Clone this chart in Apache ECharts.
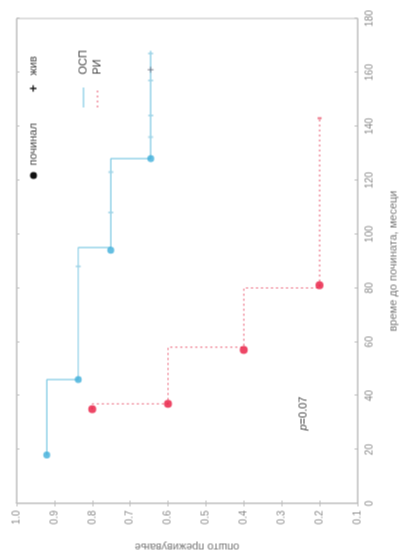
<!DOCTYPE html>
<html>
<head>
<meta charset="utf-8">
<script src="https://cdn.jsdelivr.net/npm/echarts@6/dist/echarts.min.js"></script>
<style>
  html, body { margin: 0; padding: 0; background: #fff; }
  #frame { position: relative; width: 403px; height: 560px; overflow: hidden; }
  /* chart is laid out landscape and turned a quarter turn counter-clockwise */
  #chart { position: absolute; width: 560px; height: 403px; left: -78.5px; top: 78.5px;
           transform: rotate(-90deg); transform-origin: 50% 50%; }
</style>
</head>
<body>
<div id="frame"><div id="chart"></div></div>
<script>
// Kaplan–Meier curves: time to death (months) vs overall survival
const ospSteps = [[18, 0.92], [46, 0.837], [95, 0.751], [128, 0.646], [168, 0.646]];
const ospDeaths = [[18, 0.92], [46, 0.837], [94, 0.751], [128, 0.646]];
const ospCensored = [[88, 0.837], [108, 0.751], [123, 0.751], [136, 0.646], [144, 0.646], [157, 0.646], [167, 0.646]];
const ospAlive = [[161, 0.646]];

const riSteps = [[35, 0.8], [37, 0.6], [58, 0.4], [80, 0.2], [143, 0.2]];
const riDeaths = [[35, 0.8], [37, 0.6], [57, 0.4], [81, 0.2]];
const riCensored = [[143, 0.2]];

const timeTicks = { min: 0, max: 180, interval: 20 };
const survTicks = { min: 0.1, max: 1.0, interval: 0.1 };

const FONT = 'Liberation Sans';
const BLUE_LINE = '#7cc8e2';
const BLUE_DOT = '#3daed9';
const RED_LINE = '#e8546c';
const RED_DOT = '#e8183f';
const AXIS_GRAY = '#bdbdbd';
const LABEL_GRAY = '#888';

const plusPath = 'path://M0,-5 L0,5 M-5,0 L5,0';
const barPath = 'path://M-0.6,-5 L0.6,-5 L0.6,5 L-0.6,5 Z';

const chart = echarts.init(document.getElementById('chart'), null, { renderer: 'canvas' });

function timeAxis(extra) {
  return Object.assign({
    type: 'value', min: timeTicks.min, max: timeTicks.max, interval: timeTicks.interval,
    axisLine: { show: true, lineStyle: { color: AXIS_GRAY, width: 1 } },
    axisTick: { show: true, inside: true, length: 3, lineStyle: { color: AXIS_GRAY } },
    splitLine: { show: false }
  }, extra);
}
function survAxis(extra) {
  return Object.assign({
    type: 'value', min: survTicks.min, max: survTicks.max, interval: survTicks.interval,
    axisLine: { show: true, lineStyle: { color: AXIS_GRAY, width: 1 } },
    axisTick: { show: true, inside: true, length: 3, lineStyle: { color: AXIS_GRAY } },
    splitLine: { show: false }
  }, extra);
}

chart.setOption({
  animation: false,
  backgroundColor: '#fff',
  grid: { left: 52, right: 18, top: 16, bottom: 42, show: true, borderColor: AXIS_GRAY, borderWidth: 1 },
  xAxis: [
    timeAxis({
      position: 'bottom',
      name: 'време до почината, месеци', nameLocation: 'middle', nameGap: 30,
      nameTextStyle: { fontFamily: FONT, fontSize: 11, color: '#777' },
      axisLabel: { margin: 7, fontFamily: FONT, fontSize: 10, color: LABEL_GRAY }
    }),
    timeAxis({ position: 'top', axisLabel: { show: false } })
  ],
  yAxis: [
    survAxis({
      position: 'left',
      name: 'општо преживување', nameLocation: 'middle', nameGap: 38, nameRotate: 90,
      nameTextStyle: { fontFamily: FONT, fontSize: 11, color: '#777' },
      axisLabel: { margin: 7, fontFamily: FONT, fontSize: 10, color: LABEL_GRAY,
                   formatter: v => v.toFixed(1) }
    }),
    survAxis({ position: 'right', axisLabel: { show: false } })
  ],
  series: [
    { name: 'ОСП', type: 'line', step: 'end', data: ospSteps, symbol: 'none',
      lineStyle: { color: BLUE_LINE, width: 1.2 }, z: 2 },
    { name: 'ОСП починал', type: 'scatter', data: ospDeaths, symbol: 'circle', symbolSize: 7,
      itemStyle: { color: BLUE_DOT }, z: 4 },
    { name: 'ОСП цензурирани', type: 'scatter', data: ospCensored, symbol: barPath, symbolSize: [2, 5],
      itemStyle: { color: '#9fd3e6' }, z: 3 },
    { name: 'ОСП жив', type: 'scatter', data: ospAlive, symbol: plusPath, symbolSize: 6,
      itemStyle: { color: '#667', borderColor: '#667', borderWidth: 1 }, z: 4 },
    { name: 'РИ', type: 'line', step: 'end', data: riSteps, symbol: 'none',
      lineStyle: { color: RED_LINE, width: 1, type: [2, 3] }, z: 2 },
    { name: 'РИ починал', type: 'scatter', data: riDeaths, symbol: 'circle', symbolSize: 8,
      itemStyle: { color: RED_DOT }, z: 4 },
    { name: 'РИ цензурирани', type: 'scatter', data: riCensored, symbol: barPath, symbolSize: [2, 4],
      itemStyle: { color: RED_LINE }, z: 3 }
  ],
  graphic: [
    // marker key
    { type: 'circle', shape: { cx: 385, cy: 33, r: 3.5 }, style: { fill: '#111' } },
    { type: 'text', x: 395, y: 33, style: { text: 'починал', font: '11px "Liberation Sans"', fill: '#444', verticalAlign: 'middle' } },
    { type: 'text', x: 472, y: 33, style: { text: '+', font: 'bold 13px "Liberation Sans"', fill: '#111', align: 'center', verticalAlign: 'middle' } },
    { type: 'text', x: 485, y: 33, style: { text: 'жив', font: '11px "Liberation Sans"', fill: '#444', verticalAlign: 'middle' } },
    // line key
    { type: 'line', shape: { x1: 453, y1: 83, x2: 473, y2: 83 }, style: { stroke: BLUE_LINE, lineWidth: 1.2 } },
    { type: 'text', x: 486, y: 83, style: { text: 'ОСП', font: '11px "Liberation Sans"', fill: '#444', verticalAlign: 'middle' } },
    { type: 'line', shape: { x1: 453, y1: 97, x2: 473, y2: 97 }, style: { stroke: RED_LINE, lineWidth: 1, lineDash: [2, 3] } },
    { type: 'text', x: 486, y: 97, style: { text: 'РИ', font: '11px "Liberation Sans"', fill: '#444', verticalAlign: 'middle' } },
    // log-rank result
    { type: 'text', x: 130, y: 303, style: {
        text: '{i|p}{n|=0.07}', verticalAlign: 'middle',
        rich: { i: { fontFamily: FONT, fontStyle: 'italic', fontSize: 11, fill: '#444' },
                n: { fontFamily: FONT, fontSize: 11, fill: '#444' } } } }
  ]
});
</script>
</body>
</html>
